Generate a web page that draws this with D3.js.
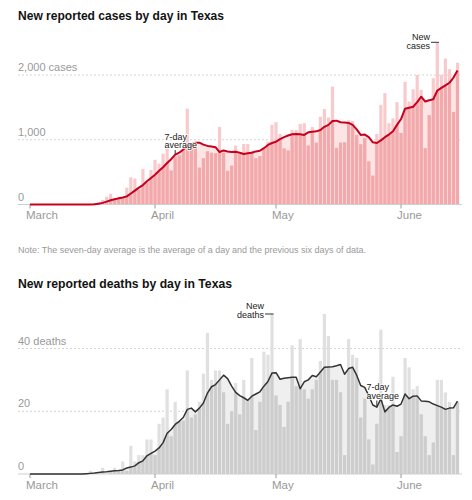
<!DOCTYPE html>
<html><head><meta charset="utf-8">
<script src="https://cdn.jsdelivr.net/npm/d3@7"></script>
<style>
body{margin:0;background:#fff;}
svg{display:block;font-family:"Liberation Sans",Arial,Helvetica,sans-serif;}
</style></head><body>
<svg id="c" width="472" height="500"></svg>
<script>
// ---------- DATA ----------
const startDay = "2020-03-01";
const endDay = "2020-06-15";
const monthTicks = ["2020-03-01","2020-04-01","2020-05-01","2020-06-01"];
const monthLabels = ["March","April","May","June"];
const casesTicks = [0, 1000, 2000];
const casesTickLabels = ["0", "1,000", "2,000 cases"];
const deathsTicks = [0, 20, 40];
const deathsTickLabels = ["0", "20", "40 deaths"];

const newCases = [0,0,0,0,0,0,0,0,0,0,0,0,0,0,
  5,10,20,40,70,120,165,100,120,110,260,420,400,230,550,340,535,
  690,630,785,860,525,740,760,845,1480,900,950,570,715,820,800,790,1200,800,520,600,910,780,935,935,830,715,750,860,970,1230,
  1270,1090,865,835,1150,1150,1245,1255,910,1195,955,1355,1475,1345,1820,875,955,960,1300,1290,1075,930,1025,665,445,1090,1540,1720,1255,1330,1580,
  1105,1895,1590,1780,2000,1770,870,1380,1950,2505,2005,2255,2090,1430,2190];

const casesAvg = [0,0,0,0,0,0,0,0,0,0,0,0,0,0,0,0,
  5,12,25,45,65,80,95,108,125,170,215,260,300,360,410,
  460,520,575,640,700,770,800,850,900,930,955,955,925,905,895,885,810,835,820,810,815,800,780,790,800,820,830,870,920,950,
  970,1010,1040,1065,1085,1090,1085,1075,1115,1125,1130,1150,1200,1230,1290,1295,1270,1265,1260,1230,1160,1075,1080,1040,960,950,990,1040,1080,1130,1230,
  1320,1480,1495,1510,1580,1665,1590,1610,1625,1760,1800,1840,1880,1960,2070];

const newDeaths = [0,0,0,0,0,0,0,0,0,0,0,0,0,0,0,
  1,0,0,2,0,1,2,1,4,1,9,4,6,6,11,11,
  6,16,18,27,12,23,17,17,33,18,19,23,32,45,30,33,33,26,16,20,29,19,30,24,37,14,23,39,38,51,
  25,22,15,23,41,28,43,27,24,27,30,36,51,44,30,30,26,6,43,38,37,18,24,11,3,16,46,22,22,31,7,
  12,37,34,27,28,19,12,6,10,30,30,26,23,6,23];

const deathsAvg = [0,0,0,0,0,0,0,0,0,0,0,0,0,0,
  0.1,0.2,0.3,0.5,0.6,0.7,0.9,1.0,1.1,1.3,1.9,2.2,2.6,3.6,4.2,5.8,6.6,
  7.3,8.3,10.0,13.0,14.2,15.8,16.8,18.0,20.6,21.0,19.8,21.0,22.6,25.8,27.8,28.5,30.0,31.5,30.4,28.0,26.0,25.0,24.3,23.5,24.8,25.5,26.2,28.0,29.5,32.2,
  32.3,30.2,30.5,30.7,30.8,30.8,27.2,29.4,30.0,31.4,31.0,32.5,34.0,34.1,34.2,34.5,34.9,31.8,33.6,34.0,31.5,28.2,27.6,25.0,22.0,21.3,24.0,19.8,21.2,22.0,21.6,
  22.3,25.5,24.0,24.8,24.9,23.3,23.2,23.0,22.3,21.8,21.3,20.6,21.0,21.1,23.2];

// ---------- CHART ----------
const parse = d3.timeParse("%Y-%m-%d");
const days = d3.timeDay.range(parse(startDay), d3.timeDay.offset(parse(endDay), 1));
const svg = d3.select("#c");
const W = 472;
const left = 18, right = 462;
const x = d3.scaleTime().domain([parse(startDay), parse(endDay)]).range([30, 457.5]);
const barW = 3.2;

svg.append("rect").attr("width", W).attr("height", 500).attr("fill", "#fff");

function panel(opt) {
  const g = svg.append("g");
  const y = d3.scaleLinear().domain([0, opt.ticks[opt.ticks.length - 1]]).range(opt.yRange);
  const data = days.map((d, i) => ({d, v: opt.values[i], a: opt.avg[i]}));

  // title
  g.append("text").attr("x", left).attr("y", opt.titleY)
    .attr("font-size", 13.5).attr("font-weight", "bold").attr("fill", "#121212")
    .attr("textLength", opt.titleLen).attr("lengthAdjust", "spacingAndGlyphs")
    .text(opt.title);

  // gridlines + labels
  opt.ticks.forEach((t, k) => {
    if (t > 0) {
      g.append("line").attr("x1", left).attr("x2", right)
        .attr("y1", y(t)).attr("y2", y(t))
        .attr("stroke", "#d4d4d4").attr("stroke-dasharray", "2,2").attr("stroke-width", 1);
    }
    g.append("text").attr("x", left).attr("y", y(t) - 4)
      .attr("font-size", 11).attr("fill", "#999").text(opt.tickLabels[k]);
  });

  // area under average
  const area = d3.area().x(d => x(d.d) + (d.dx || 0)).y0(y(0)).y1(d => y(d.a));
  const clipData = [Object.assign({}, data[0], {dx: -barW}), ...data,
                    Object.assign({}, data[data.length - 1], {dx: barW})];
  g.append("path").attr("d", area(data)).attr("fill", opt.areaColor);

  const clipId = "clip" + opt.id;
  g.append("clipPath").attr("id", clipId).append("path").attr("d", area(clipData));

  g.append("g").selectAll("rect").data(data).join("rect")
    .attr("x", d => x(d.d) - barW / 2).attr("width", barW)
    .attr("y", d => y(d.v)).attr("height", d => y(0) - y(d.v))
    .attr("fill", opt.lightBar);
  g.append("g").attr("clip-path", `url(#${clipId})`).selectAll("rect").data(data).join("rect")
    .attr("x", d => x(d.d) - barW / 2).attr("width", barW)
    .attr("y", d => y(d.v)).attr("height", d => y(0) - y(d.v))
    .attr("fill", opt.darkBar);

  // baseline
  g.append("line").attr("x1", left).attr("x2", right).attr("y1", y(0)).attr("y2", y(0))
    .attr("stroke", "#cfcfcf").attr("stroke-width", 1);

  // month ticks
  monthTicks.forEach((m, k) => {
    const xx = x(parse(m));
    g.append("line").attr("x1", xx).attr("x2", xx).attr("y1", y(0)).attr("y2", y(0) + 4)
      .attr("stroke", "#999");
    g.append("text").attr("x", xx - 4).attr("y", y(0) + 14.5)
      .attr("font-size", 11.5).attr("fill", "#999").text(monthLabels[k]);
  });

  // average line
  g.append("path").attr("d", d3.line().x(d => x(d.d)).y(d => y(d.a))(data))
    .attr("fill", "none").attr("stroke", opt.lineColor).attr("stroke-width", opt.lineW)
    .attr("stroke-linejoin", "round");

  return {g, y, data};
}

function label(g, lines, xx, y0, anchor) {
  const t = g.append("text").attr("font-size", 9).attr("fill", "#222")
    .attr("text-anchor", anchor)
    .attr("stroke", "#fff").attr("stroke-width", 2).attr("paint-order", "stroke")
    .attr("stroke-opacity", 0.8);
  lines.forEach((s, k) => t.append("tspan").attr("x", xx).attr("y", y0 + k * 8.5).text(s));
}

// Cases panel
const p1 = panel({id: 1, title: "New reported cases by day in Texas", titleY: 20, titleLen: 206,
  ticks: casesTicks, tickLabels: casesTickLabels, values: newCases, avg: casesAvg,
  yRange: [204.5, 75], areaColor: "#fde5e5", lightBar: "#f8cacc", darkBar: "#f2a9ab",
  lineColor: "#c8001e", lineW: 2});

// note
svg.append("text").attr("x", left).attr("y", 253).attr("font-size", 9.5).attr("fill", "#999")
  .attr("textLength", 348).attr("lengthAdjust", "spacingAndGlyphs")
  .text("Note: The seven-day average is the average of a day and the previous six days of data.");

// Deaths panel
const p2 = panel({id: 2, title: "New reported deaths by day in Texas", titleY: 288, titleLen: 214,
  ticks: deathsTicks, tickLabels: deathsTickLabels, values: newDeaths, avg: deathsAvg,
  yRange: [474, 348.5], areaColor: "#efefef", lightBar: "#e0e0e0", darkBar: "#cdcdcd",
  lineColor: "#333", lineW: 1.5});

// Annotations: cases
{
  const pk = p1.data[d3.maxIndex(newCases)];
  label(p1.g, ["New", "cases"], 430, 40, "end");
  p1.g.append("line").attr("x1", 431).attr("x2", x(pk.d) + barW / 2)
    .attr("y1", p1.y(pk.v)).attr("y2", p1.y(pk.v)).attr("stroke", "#333").attr("stroke-width", 1);
  const av = p1.data[36];
  label(p1.g, ["7-day", "average"], 164.5, 139.5, "start");
  p1.g.append("line").attr("x1", x(av.d)).attr("x2", x(av.d)).attr("y1", 150).attr("y2", p1.y(av.a))
    .attr("stroke", "#333").attr("stroke-width", 1);
}
// Annotations: deaths
{
  const pk = p2.data[d3.maxIndex(newDeaths)];
  label(p2.g, ["New", "deaths"], 264, 309, "end");
  p2.g.append("line").attr("x1", 265).attr("x2", x(pk.d) + barW / 2)
    .attr("y1", p2.y(pk.v)).attr("y2", p2.y(pk.v)).attr("stroke", "#333").attr("stroke-width", 1);
  const av = p2.data[86];
  label(p2.g, ["7-day", "average"], 366.5, 390, "start");
  p2.g.append("line").attr("x1", x(av.d)).attr("x2", x(av.d)).attr("y1", 400.5).attr("y2", p2.y(av.a))
    .attr("stroke", "#333").attr("stroke-width", 1);
}
</script>
</body></html>
